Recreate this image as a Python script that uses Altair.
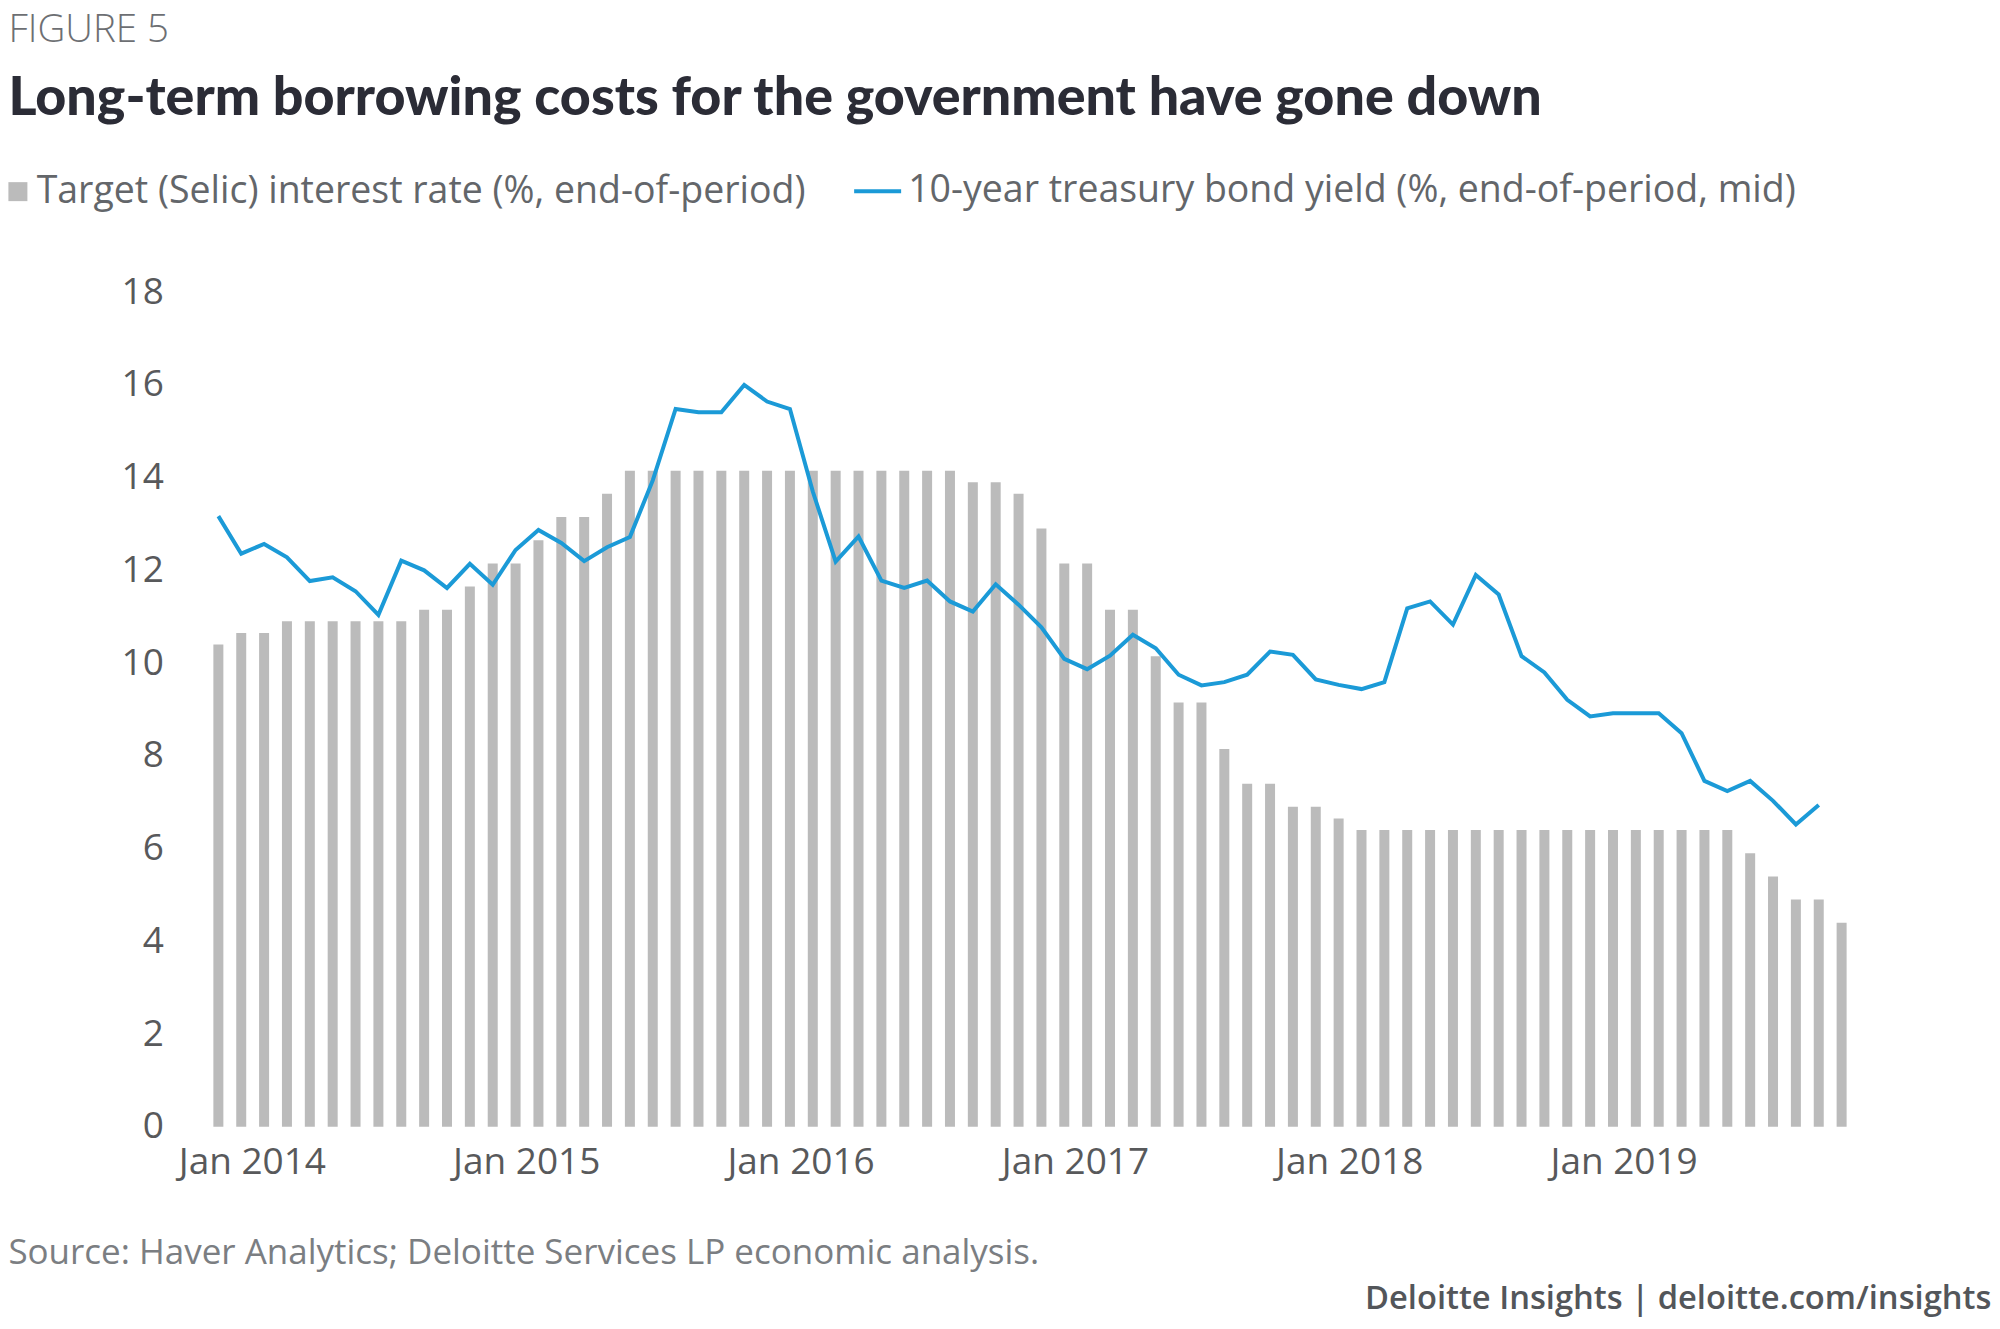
import altair as alt
import pandas as pd

# ---------------- data ----------------
years = [2014, 2015, 2016, 2017, 2018, 2019]
month_abbr = ["Jan", "Feb", "Mar", "Apr", "May", "Jun",
              "Jul", "Aug", "Sep", "Oct", "Nov", "Dec"]
months = [f"{m} {y}" for y in years for m in month_abbr]
x_tick_labels = ["Jan 2014", "Jan 2015", "Jan 2016", "Jan 2017", "Jan 2018", "Jan 2019"]
y_tick_values = [0, 2, 4, 6, 8, 10, 12, 14, 16, 18]

selic = [
    10.40, 10.65, 10.65, 10.90, 10.90, 10.90, 10.90, 10.90, 10.90, 11.15, 11.15, 11.65,   # 2014
    12.15, 12.15, 12.65, 13.15, 13.15, 13.65, 14.15, 14.15, 14.15, 14.15, 14.15, 14.15,   # 2015
    14.15, 14.15, 14.15, 14.15, 14.15, 14.15, 14.15, 14.15, 14.15, 13.90, 13.90, 13.65,   # 2016
    12.90, 12.15, 12.15, 11.15, 11.15, 10.15, 9.15, 9.15, 8.15, 7.40, 7.40, 6.90,         # 2017
    6.90, 6.65, 6.40, 6.40, 6.40, 6.40, 6.40, 6.40, 6.40, 6.40, 6.40, 6.40,               # 2018
    6.40, 6.40, 6.40, 6.40, 6.40, 6.40, 6.40, 5.90, 5.40, 4.90, 4.90, 4.40,               # 2019
]

bond = [
    13.17, 12.36, 12.57, 12.28, 11.77, 11.85, 11.55, 11.04, 12.21, 12.00, 11.62, 12.14,   # 2014
    11.69, 12.44, 12.87, 12.59, 12.20, 12.50, 12.72, 13.94, 15.48, 15.41, 15.41, 16.00,   # 2015
    15.64, 15.48, 13.70, 12.19, 12.73, 11.78, 11.62, 11.78, 11.33, 11.11, 11.70, 11.26,   # 2016
    10.77, 10.09, 9.87, 10.16, 10.61, 10.32, 9.75, 9.52, 9.59, 9.75, 10.25, 10.18,        # 2017
    9.65, 9.53, 9.44, 9.59, 11.18, 11.33, 10.83, 11.90, 11.48, 10.15, 9.80, 9.21,         # 2018
    8.85, 8.92, 8.92, 8.92, 8.49, 7.46, 7.24, 7.46, 7.03, 6.52, 6.94, None,               # 2019
]

bar_name = "Target (Selic) interest rate (%, end-of-period)"
line_name = "10-year treasury bond yield (%, end-of-period, mid)"
title_text = "FIGURE 5"
subtitle_text = "Long-term borrowing costs for the government have gone down"
source_text = ["Source: Haver Analytics; Deloitte Services LP economic analysis."]
brand_text = ["Deloitte Insights | deloitte.com/insights"]

df = pd.DataFrame({
    "month": months,
    "selic": selic,
    "bond": bond,
    "bar_series": [bar_name] * len(months),
    "line_series": [line_name] * len(months),
})

# ---------------- styles ----------------
FONT = "Open Sans"
BAR_GRAY = "#bbbbbb"
LINE_BLUE = "#1b9ad7"
AXIS_TXT = "#58595b"
LEG_TXT = "#63666a"

x_enc = alt.X(
    "month:N",
    sort=months,
    scale=alt.Scale(domain=months, paddingInner=0.563, paddingOuter=0.5),
    axis=alt.Axis(
        values=x_tick_labels, title=None, labelAngle=0, labelFontSize=37,
        labelFont=FONT, labelColor=AXIS_TXT, labelOffset=34, labelPadding=18,
        ticks=False, tickSize=0, domain=False, grid=False, labelOverlap=False,
    ),
)
y_axis = alt.Axis(
    values=y_tick_values, title=None, grid=False, domain=False, ticks=False,
    tickSize=0, labelPadding=38.6, labelFontSize=37, labelFont=FONT,
    labelColor=AXIS_TXT,
)
y_scale = alt.Scale(domain=[0, 18], nice=False, zero=True)

base = alt.Chart(df)

bars = base.mark_bar().encode(
    x=x_enc,
    y=alt.Y("selic:Q", scale=y_scale, axis=y_axis),
    fill=alt.Fill(
        "bar_series:N",
        scale=alt.Scale(domain=[bar_name], range=[BAR_GRAY]),
        legend=alt.Legend(
            orient="none", legendX=-193.6, legendY=-119.25, title=None,
            symbolType="square", symbolSize=361, symbolStrokeWidth=0,
            symbolOffset=-9.25,
            labelFontSize=37.5, labelFont=FONT, labelColor=LEG_TXT,
            labelOffset=0, labelLimit=2000, padding=0,
        ),
    ),
)

line = base.mark_line(strokeWidth=4, strokeJoin="miter").encode(
    x=alt.X("month:N", sort=months, bandPosition=0.5),
    y=alt.Y("bond:Q", scale=y_scale, axis=y_axis),
    stroke=alt.Stroke(
        "line_series:N",
        scale=alt.Scale(domain=[line_name], range=[LINE_BLUE]),
        legend=alt.Legend(
            orient="none", legendX=650.4, legendY=-126.5, title=None,
            symbolType="stroke", symbolSize=2209, symbolStrokeWidth=4,
            labelFontSize=37.5, labelFont=FONT, labelColor=LEG_TXT,
            labelOffset=5, labelLimit=2000, padding=0,
        ),
    ),
)

source = alt.Chart(pd.DataFrame({"t": source_text})).mark_text(
    align="left", baseline="alphabetic", font=FONT, fontSize=35,
    color="#7b7e82",
).encode(text="t:N", x=alt.value(-193.6), y=alt.value(972))

brand = alt.Chart(pd.DataFrame({"t": brand_text})).mark_text(
    align="right", baseline="alphabetic", font=FONT, fontSize=32.7,
    fontWeight=600, color="#53565a",
).encode(text="t:N", x=alt.value(1790), y=alt.value(1017))

chart = alt.layer(bars, line, source, brand).resolve_scale(
    fill="independent", stroke="independent"
).properties(
    width=1656.6,
    height=835,
    padding={"top": 3, "left": 0, "right": 0, "bottom": 4},
    title=alt.TitleParams(
        text=title_text,
        subtitle=subtitle_text,
        anchor="start",
        frame="bounds",
        font=FONT,
        fontSize=38.5,
        fontWeight=300,
        color="#6d6f73",
        subtitleFont="Noto Sans Condensed, Lato",
        subtitleFontSize=53.8,
        subtitleFontWeight=900,
        subtitleColor="#2b2c36",
        subtitlePadding=21,
        offset=39.2,
    ),
).configure(
    background="white",
    view=alt.ViewConfig(stroke=None),
)

chart.save("out.html", embed_options={"renderer": "svg", "actions": False})
